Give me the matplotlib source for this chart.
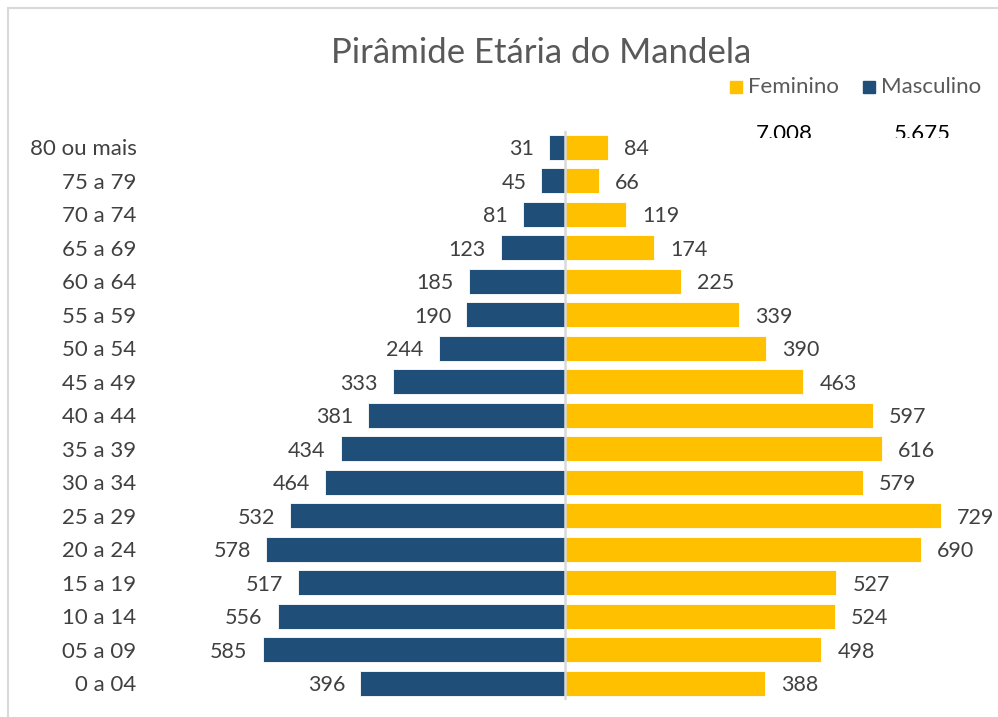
import matplotlib
matplotlib.use("Agg")
import matplotlib.pyplot as plt
from matplotlib.patches import Rectangle
from matplotlib.transforms import Bbox, TransformedBbox

plt.rcParams["font.family"] = ["Lato", "DejaVu Sans"]

# Age groups, youngest at the bottom
faixas = ["0 a 04", "05 a 09", "10 a 14", "15 a 19", "20 a 24", "25 a 29",
          "30 a 34", "35 a 39", "40 a 44", "45 a 49", "50 a 54", "55 a 59",
          "60 a 64", "65 a 69", "70 a 74", "75 a 79", "80 ou mais"]
masculino = [396, 585, 556, 517, 578, 532, 464, 434, 381, 333, 244, 190,
             185, 123, 81, 45, 31]
feminino = [388, 498, 524, 527, 690, 729, 579, 616, 597, 463, 390, 339,
            225, 174, 119, 66, 84]
titulo = "Pirâmide Etária do Mandela"

AZUL = "#1F4E79"
AMARELO = "#FFC000"
CINZA_TXT = "#404040"

W, H = 998, 717
fig = plt.figure(figsize=(W / 100, H / 100), dpi=100)


def fx(x):
    return x / W


def fy(y):
    return 1 - y / H


# axes placed in pixel terms: zero line at x=565, 0.516 px per person
xmax = 800
scale = 0.516
cx = 564.5
left_px = cx - xmax * scale
right_px = cx + xmax * scale
top_px, bot_px = 130.5, 700.0
ax = fig.add_axes([fx(left_px), fy(bot_px), (right_px - left_px) / W,
                   (bot_px - top_px) / H])
ax.set_xlim(-xmax, xmax)
ax.set_ylim(-0.5, len(faixas) - 0.5)

y = list(range(len(faixas)))
ax.barh(y, [-v for v in masculino], height=0.76, color=AZUL,
        edgecolor="white", linewidth=0.6)
ax.barh(y, feminino, height=0.76, color=AMARELO,
        edgecolor="white", linewidth=0.6)
ax.axvline(0, color="#D9D9D9", linewidth=1.8, zorder=3)

for i, (m, f) in enumerate(zip(masculino, feminino)):
    ax.annotate(str(m), (-m, i), xytext=(-15, -2), textcoords="offset pixels",
                ha="right", va="center", fontsize=15.5, color=CINZA_TXT)
    ax.annotate(str(f), (f, i), xytext=(16, -2), textcoords="offset pixels",
                ha="left", va="center", fontsize=15.5, color=CINZA_TXT)

ax.set_yticks(y)
ax.set_yticklabels(faixas, fontsize=16, color=CINZA_TXT)
ax.tick_params(axis="y", length=0, pad=11)
ax.set_xticks([])
for s in ax.spines.values():
    s.set_visible(False)
ax.patch.set_alpha(0)

# title
fig.text(fx(541.5), fy(53), titulo, ha="center", va="center", fontsize=25,
         color="#595959")

# legend
fig.patches.append(Rectangle((fx(730), fy(93)), 12 / W, 12 / H,
                             transform=fig.transFigure, color=AMARELO))
fig.text(fx(748), fy(87), "Feminino", ha="left", va="center", fontsize=16,
         color="#595959")
fig.patches.append(Rectangle((fx(863), fy(93)), 12 / W, 12 / H,
                             transform=fig.transFigure, color=AZUL))
fig.text(fx(881), fy(87), "Masculino", ha="left", va="center", fontsize=16,
         color="#595959")

# totals under the legend, cut off at the bottom edge of their box
def fmt(n):
    return f"{n:,}".replace(",", ".")


clip = TransformedBbox(Bbox([[0, fy(137.5)], [1, 1]]), fig.transFigure)
for xpos, total in ((784, sum(feminino)), (922, sum(masculino))):
    t = fig.text(fx(xpos), fy(134), fmt(total), ha="center", va="center",
                 fontsize=16, color="black")
    t.set_clip_on(True)
    t.set_clip_box(clip)

# chart border (right and bottom edges fall outside the image)
fig.patches.append(Rectangle((fx(8), fy(H + 20)), (W + 20) / W,
                             (H + 20 - 8) / H, transform=fig.transFigure,
                             fill=False, edgecolor="#D9D9D9", linewidth=1.5))

fig.savefig("out.png", dpi=100)
